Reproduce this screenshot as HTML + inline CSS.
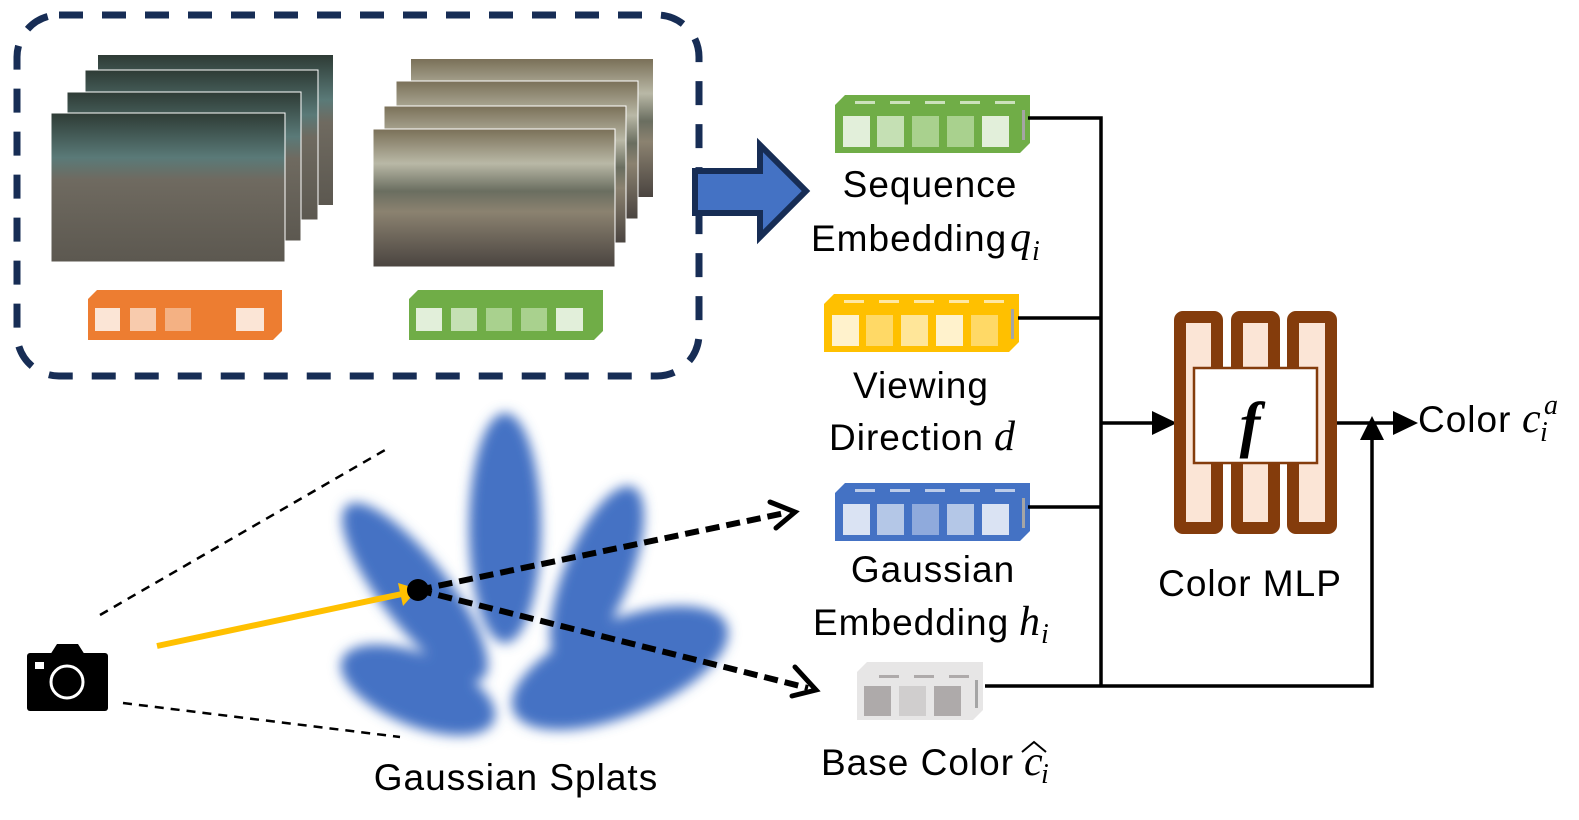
<!DOCTYPE html>
<html><head><meta charset="utf-8"><style>
html,body{margin:0;padding:0;background:#fff;}
svg{display:block;}
text{font-family:"Liberation Sans",sans-serif;fill:#000;}
.m text, text.m{font-family:"Liberation Serif",serif;font-style:italic;}
.l text{font-size:37px;letter-spacing:1px;}
</style></head><body>
<svg width="1579" height="820" viewBox="0 0 1579 820" xmlns="http://www.w3.org/2000/svg">
<defs>
<filter id="bl" x="-30%" y="-30%" width="160%" height="160%"><feGaussianBlur stdDeviation="6"/></filter>
<linearGradient id="ph1" x1="0" y1="0" x2="0" y2="1">
<stop offset="0" stop-color="#2e3b35"/><stop offset="0.3" stop-color="#5a7a78"/><stop offset="0.45" stop-color="#6f6a60"/><stop offset="1" stop-color="#5c5850"/></linearGradient>
<linearGradient id="ph2" x1="0" y1="0" x2="0" y2="1">
<stop offset="0" stop-color="#7a7058"/><stop offset="0.25" stop-color="#b9b8a6"/><stop offset="0.45" stop-color="#6a6e60"/><stop offset="0.6" stop-color="#8b8270"/><stop offset="1" stop-color="#4a4440"/></linearGradient>
</defs>

<rect x="17" y="15" width="682" height="361" rx="42" fill="none" stroke="#172d55" stroke-width="7" stroke-dasharray="24 19"/>

<rect x="98" y="55" width="235" height="150" fill="url(#ph1)"/>
<rect x="85" y="70" width="233" height="150" fill="url(#ph1)" stroke="#fff" stroke-width="1"/>
<rect x="67" y="92" width="234" height="149" fill="url(#ph1)" stroke="#fff" stroke-width="1"/>
<rect x="51" y="113" width="234" height="149" fill="url(#ph1)" stroke="#fff" stroke-width="1"/>
<rect x="411" y="59" width="242" height="138" fill="url(#ph2)"/>
<rect x="396" y="81" width="242" height="138" fill="url(#ph2)" stroke="#fff" stroke-width="1"/>
<rect x="384" y="106" width="242" height="137" fill="url(#ph2)" stroke="#fff" stroke-width="1"/>
<rect x="373" y="129" width="242" height="138" fill="url(#ph2)" stroke="#fff" stroke-width="1"/>

<polygon points="97,290 282,290 282,331 273,340 88,340 88,299" fill="#ed7d31"/>
<rect x="95" y="308" width="25" height="23" fill="#fbe5d6"/>
<rect x="130" y="308" width="26" height="23" fill="#f8cbad"/>
<rect x="165" y="308" width="26" height="23" fill="#f4b183"/>
<rect x="236" y="308" width="28" height="23" fill="#fbe5d6"/>
<polygon points="418,290 603,290 603,331 594,340 409,340 409,299" fill="#70ad47"/>
<rect x="416" y="308" width="26" height="23" fill="#e2efda"/>
<rect x="451" y="308" width="26" height="23" fill="#c5e0b4"/>
<rect x="486" y="308" width="26" height="23" fill="#a9d18e"/>
<rect x="521" y="308" width="26" height="23" fill="#a9d18e"/>
<rect x="556" y="308" width="27" height="23" fill="#e2efda"/>

<polygon points="695,171 760,171 760,145 806,191 760,237 760,213 695,213" fill="#4472c4" stroke="#172d55" stroke-width="6"/>

<polygon points="845,95 1030,95 1030,143 1020,153 835,153 835,105" fill="#70ad47"/>
<g fill="#e2efda" opacity="0.8"><rect x="855" y="101" width="20" height="3"/><rect x="890" y="101" width="20" height="3"/><rect x="925" y="101" width="20" height="3"/><rect x="960" y="101" width="20" height="3"/><rect x="995" y="101" width="20" height="3"/></g>
<rect x="843" y="116" width="27" height="31" fill="#e2efda"/>
<rect x="877" y="116" width="27" height="31" fill="#c5e0b4"/>
<rect x="912" y="116" width="27" height="31" fill="#a9d18e"/>
<rect x="947" y="116" width="27" height="31" fill="#a9d18e"/>
<rect x="982" y="116" width="27" height="31" fill="#e2efda"/>
<rect x="1022" y="110" width="3" height="30" fill="#a5a5a5"/>

<polygon points="834,294 1019,294 1019,342 1009,352 824,352 824,304" fill="#ffc000"/>
<g fill="#fff2cc" opacity="0.8"><rect x="844" y="300" width="20" height="3"/><rect x="879" y="300" width="20" height="3"/><rect x="914" y="300" width="20" height="3"/><rect x="949" y="300" width="20" height="3"/><rect x="984" y="300" width="20" height="3"/></g>
<rect x="832" y="315" width="27" height="31" fill="#fff2cc"/>
<rect x="866" y="315" width="27" height="31" fill="#ffd966"/>
<rect x="901" y="315" width="27" height="31" fill="#ffe699"/>
<rect x="936" y="315" width="27" height="31" fill="#fff2cc"/>
<rect x="971" y="315" width="27" height="31" fill="#ffd966"/>
<rect x="1011" y="309" width="3" height="30" fill="#a5a5a5"/>

<polygon points="845,483 1030,483 1030,531 1020,541 835,541 835,493" fill="#4472c4"/>
<g fill="#dae3f3" opacity="0.8"><rect x="855" y="489" width="20" height="3"/><rect x="890" y="489" width="20" height="3"/><rect x="925" y="489" width="20" height="3"/><rect x="960" y="489" width="20" height="3"/><rect x="995" y="489" width="20" height="3"/></g>
<rect x="843" y="504" width="27" height="31" fill="#dae3f3"/>
<rect x="877" y="504" width="27" height="31" fill="#b4c7e7"/>
<rect x="912" y="504" width="27" height="31" fill="#8faadc"/>
<rect x="947" y="504" width="27" height="31" fill="#b4c7e7"/>
<rect x="982" y="504" width="27" height="31" fill="#dae3f3"/>
<rect x="1022" y="498" width="3" height="30" fill="#a5a5a5"/>

<polygon points="867,662 983,662 983,710 973,720 857,720 857,672" fill="#e7e6e6"/>
<g fill="#aeaaaa"><rect x="879" y="675" width="20" height="3"/><rect x="914" y="675" width="20" height="3"/><rect x="949" y="675" width="20" height="3"/></g>
<rect x="864" y="686" width="27" height="30" fill="#aeaaaa"/>
<rect x="899" y="686" width="27" height="30" fill="#d0cece"/>
<rect x="934" y="686" width="27" height="30" fill="#aeaaaa"/>
<rect x="975" y="680" width="3" height="28" fill="#a5a5a5"/>

<g stroke="#000" stroke-width="3.5" fill="none">
<polyline points="1028,118 1101,118 1101,686"/>
<line x1="1018" y1="318" x2="1101" y2="318"/>
<line x1="1028" y1="507" x2="1101" y2="507"/>
<polyline points="985,686 1372,686 1372,440"/>
<line x1="1101" y1="423" x2="1155" y2="423"/>
<line x1="1328" y1="423" x2="1395" y2="423"/>
</g>
<polygon points="1152,411 1177,423 1152,435" fill="#000"/>
<polygon points="1360,440 1372,416 1384,440" fill="#000"/>
<polygon points="1393,411 1418,423 1393,435" fill="#000"/>

<g fill="#fbe5d6" stroke="#843c0c" stroke-width="12">
<rect x="1180" y="317" width="37" height="211" rx="3"/>
<rect x="1237" y="317" width="37" height="211" rx="3"/>
<rect x="1293" y="317" width="38" height="211" rx="3"/>
</g>
<rect x="1194" y="368" width="123" height="95" fill="#fff" stroke="#843c0c" stroke-width="2.5"/>
<text x="1250" y="445" font-size="62" font-weight="bold" text-anchor="middle" class="m">f</text>

<g fill="#4472c4" filter="url(#bl)">
<ellipse cx="505" cy="528" rx="36" ry="115"/>
<ellipse cx="415" cy="592" rx="34" ry="110" transform="rotate(-38 415 592)"/>
<ellipse cx="597" cy="575" rx="33" ry="95" transform="rotate(22 597 575)"/>
<ellipse cx="418" cy="690" rx="82" ry="36" transform="rotate(22 418 690)"/>
<ellipse cx="620" cy="668" rx="115" ry="48" transform="rotate(-22 620 668)"/>
</g>

<rect x="27" y="653" width="81" height="58" rx="3" fill="#000"/>
<polygon points="50,655 57,644 78,644 85,655" fill="#000"/>
<rect x="35" y="662" width="9" height="7" fill="#fff"/>
<circle cx="67" cy="682" r="16" fill="none" stroke="#fff" stroke-width="3"/>

<g stroke="#000" stroke-width="2.5" stroke-dasharray="9 7" fill="none">
<line x1="100" y1="615" x2="385" y2="450"/>
<line x1="123" y1="703" x2="400" y2="737"/>
</g>

<line x1="157" y1="646" x2="402" y2="594" stroke="#ffc000" stroke-width="6"/>
<polygon points="398,583 418,589 403,606" fill="#ffc000"/>

<g stroke="#000" stroke-width="6" stroke-dasharray="14 7" fill="none">
<line x1="418" y1="590" x2="785" y2="513"/>
<line x1="418" y1="590" x2="808" y2="688"/>
</g>
<g stroke="#000" stroke-width="5" fill="none" stroke-linecap="round">
<polyline points="770,502 795,512 776,528"/>
<polyline points="795,667 816,690 792,696"/>
</g>
<circle cx="418" cy="590" r="11" fill="#000"/>

<g class="l">
<text x="930" y="197" text-anchor="middle">Sequence</text>
<text x="811" y="251">Embedding</text>
<text x="921" y="398" text-anchor="middle">Viewing</text>
<text x="829" y="450">Direction</text>
<text x="933" y="582" text-anchor="middle">Gaussian</text>
<text x="813" y="635">Embedding</text>
<text x="821" y="775">Base Color</text>
<text x="1250" y="596" text-anchor="middle">Color MLP</text>
<text x="1418" y="432">Color</text>
<text x="516" y="790" text-anchor="middle">Gaussian Splats</text>
</g>
<g class="m">
<text x="1010" y="251" font-size="42">q</text><text x="1032" y="260" font-size="28">i</text>
<text x="994" y="450" font-size="42">d</text>
<text x="1019" y="635" font-size="42">h</text><text x="1041" y="643" font-size="28">i</text>
<text x="1024" y="775" font-size="42">c</text><text x="1041" y="783" font-size="28">i</text>
<text x="1522" y="432" font-size="42">c</text><text x="1540" y="441" font-size="28">i</text><text x="1544" y="414" font-size="28">a</text>
</g>
<path d="M1022 752 L1034 742 L1046 752" stroke="#000" stroke-width="2" fill="none"/>
</svg>
</body></html>
